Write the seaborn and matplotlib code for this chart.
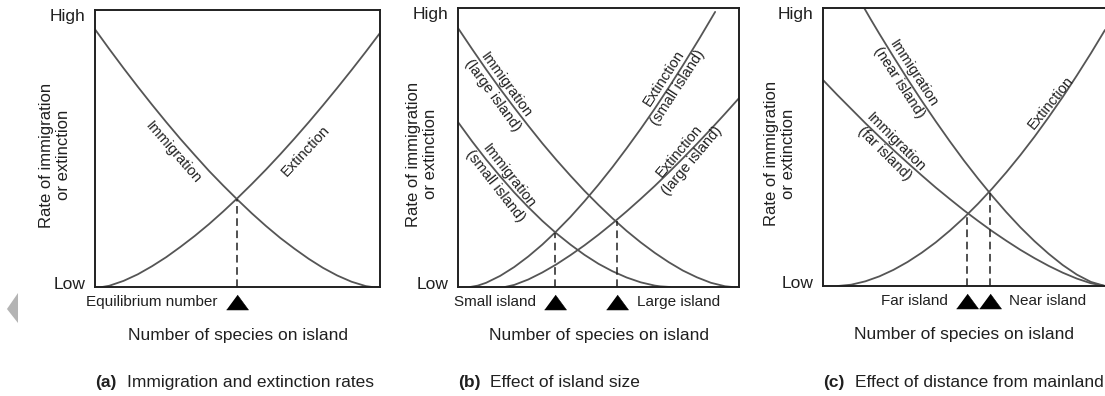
import matplotlib
matplotlib.use('Agg')
import matplotlib.pyplot as plt
import seaborn as sns
from matplotlib.patches import Polygon

# (a) immigration and extinction rates  (x, y as fraction of axis range)
a_imm_x = [0, .05, .1, .15, .2, .25, .3, .35, .4, .45, .5, .55, .6, .65, .7, .75, .8, .85, .9, .95, .972]
a_imm_y = [.93, .859, .79, .723, .658, .595, .534, .476, .419, .366, .315, .266, .220, .177,
           .138, .1015, .069, .0414, .019, .0032, 0]
a_ext_x = [.025, .05, .1, .15, .2, .25, .3, .35, .4, .45, .5, .55, .6, .65, .7, .75, .8, .85, .9, .95, 1.0]
a_ext_y = [0, .0044, .022, .0457, .075, .1078, .145, .1844, .227, .2728, .321, .3715, .424, .479,
           .536, .595, .656, .7187, .783, .849, .917]
a_eq_x = [.498]
a_eq_y = [.318]
a_eq_names = ['Equilibrium number']

# (b) effect of island size
b_imm_large_x = [0, .05, .1, .15, .2, .25, .3, .35, .4, .45, .5, .55, .6, .65, .7, .75, .8, .85, .9, .95, .975]
b_imm_large_y = [.928, .853, .780, .710, .643, .578, .515, .4555, .399, .3447, .294, .2458, .201, .160,
                 .1225, .0888, .059, .0347, .015, .0026, 0]
b_imm_small_x = [0, .05, .1, .15, .2, .25, .3, .35, .4, .45, .5, .55, .6, .65, .7, .72, .754]
b_imm_small_y = [.591, .522, .457, .3965, .339, .2862, .237, .1923, .152, .1152, .083, .0562, .034,
                 .0167, .005, .0022, 0]
b_ext_small_x = [.043, .07, .1, .15, .2, .25, .3, .35, .4, .45, .5, .55, .6, .65, .7, .75, .8, .86, .915]
b_ext_small_y = [0, .0048, .015, .0398, .0715, .1093, .152, .1997, .251, .3073, .367, .4301, .497,
                 .5665, .639, .7152, .794, .8924, .986]
b_ext_large_x = [.167, .2, .25, .3, .35, .4, .45, .5, .55, .6, .65, .7, .75, .8, .85, .9, .95, 1.0]
b_ext_large_y = [0, .0074, .0268, .052, .0811, .114, .1493, .1875, .2282, .271, .3157, .362, .4108,
                 .461, .5127, .566, .6208, .677]
b_eq_x = [.345, .566]
b_eq_y = [.194, .237]
b_eq_names = ['Small island', 'Large island']

# (c) effect of distance from mainland
c_imm_near_x = [.146, .17, .2, .25, .3, .35, .4, .45, .5, .55, .6, .65, .7, .75, .8, .85, .9, .95, 1.0]
c_imm_near_y = [1.0, .958, .907, .8244, .744, .6664, .592, .520, .451, .3859, .324, .2656, .211,
                .1612, .116, .0754, .041, .0147, 0]
c_imm_far_x = [0, .05, .1, .15, .2, .25, .3, .35, .4, .45, .5, .55, .6, .65, .7, .75, .8, .85, .9, .95, 1.0]
c_imm_far_y = [.741, .688, .637, .586, .537, .489, .443, .3979, .354, .3126, .272, .2339, .197, .1627,
               .130, .1001, .0725, .0479, .0267, .0098, 0]
c_ext_x = [.053, .1, .15, .2, .25, .3, .35, .4, .45, .5, .55, .6, .65, .7, .75, .8, .85, .9, .95, 1.0]
c_ext_y = [0, .0047, .0167, .0347, .0581, .0865, .1196, .157, .1994, .2456, .2961, .3505, .4088,
           .471, .537, .607, .6799, .757, .8371, .921]
c_eq_x = [.512, .591]
c_eq_y = [.263, .335]
c_eq_names = ['Far island', 'Near island']

CURVE = '#555555'
INK = '#202020'

sns.set_style('white')
plt.rcParams['font.family'] = ['Liberation Sans', 'DejaVu Sans']

fig = plt.figure(figsize=(11.05, 3.96), dpi=100)


def panel(rect, curves, eq_x, eq_y, eq_names, notes, ylab_x, caption_letter, caption):
    ax = fig.add_axes(rect)
    for xs, ys in curves:
        sns.lineplot(x=xs, y=ys, ax=ax, color=CURVE, lw=1.3, estimator=None, sort=False)
    for xe, ye in zip(eq_x, eq_y):
        sns.lineplot(x=[xe, xe], y=[0, ye], ax=ax, color=INK, lw=1.1,
                     linestyle=(0, (5, 3)), estimator=None, sort=False)

    # equilibrium triangles just under the axis
    tri = [(-1, -0.68), (1, -0.68), (0, 0.68)]
    sns.scatterplot(x=eq_x, y=[-0.054] * len(eq_x), ax=ax, marker=tri, s=250,
                    color='black', edgecolor='black', linewidth=0.4,
                    clip_on=False, transform=ax.get_xaxis_transform(), zorder=5)
    sides = [-1] if len(eq_x) == 1 else [-1, 1]
    for xe, name, side in zip(eq_x, eq_names, sides):
        ax.annotate(name, xy=(xe, -0.054), xycoords=ax.get_xaxis_transform(),
                    xytext=(14 * side, 0), textcoords='offset points',
                    ha='right' if side < 0 else 'left', va='center',
                    fontsize=11, color=INK, annotation_clip=False)

    # labels along the curves
    for txt, x, y, rot in notes:
        ax.text(x, y, txt, transform=ax.transAxes, rotation=rot, rotation_mode='anchor',
                ha='center', va='center', fontsize=10.5, color=INK, linespacing=1.25)

    ax.set_xlim(0, 1)
    ax.set_ylim(0, 1)
    ax.set_xticks([])
    ax.set_yticks([0.015, 0.982])
    ax.set_yticklabels(['Low', 'High'], fontsize=12.5, color=INK)
    ax.tick_params(axis='y', length=0, pad=7)
    for s in ax.spines.values():
        s.set_color(INK)
        s.set_linewidth(1.4)

    ax.set_xlabel('Number of species on island', fontsize=12.5, color=INK)
    ax.xaxis.set_label_coords(0.5, -0.148)
    ax.set_ylabel('Rate of immigration\nor extinction', fontsize=12, color=INK, va='center')
    ax.yaxis.set_label_coords(ylab_x, 0.476)

    fig.text(rect[0], 0.033, caption_letter, fontsize=12.5, fontweight='bold',
             color=INK, va='center')
    fig.text(rect[0] + 0.029, 0.033, caption, fontsize=12.5, color=INK, va='center')
    return ax


panel([0.0860, 0.2753, 0.2579, 0.6995],
      [(a_imm_x, a_imm_y), (a_ext_x, a_ext_y)],
      a_eq_x, a_eq_y, a_eq_names,
      [('Immigration', 0.274, 0.487, -49), ('Extinction', 0.740, 0.491, 47)],
      -0.140, '(a)', 'Immigration and extinction rates')

panel([0.4145, 0.2753, 0.2543, 0.7045],
      [(b_imm_large_x, b_imm_large_y), (b_imm_small_x, b_imm_small_y),
       (b_ext_small_x, b_ext_small_y), (b_ext_large_x, b_ext_large_y)],
      b_eq_x, b_eq_y, b_eq_names,
      [('Immigration\n(large island)', 0.146, 0.706, -54),
       ('Immigration\n(small island)', 0.157, 0.380, -52),
       ('Extinction\n(small island)', 0.758, 0.731, 57),
       ('Extinction\n(large island)', 0.811, 0.470, 50)],
      -0.128, '(b)', 'Effect of island size')

ax_c = panel([0.7448, 0.2778, 0.2552, 0.7020],
             [(c_imm_near_x, c_imm_near_y), (c_imm_far_x, c_imm_far_y), (c_ext_x, c_ext_y)],
             c_eq_x, c_eq_y, c_eq_names,
             [('Immigration\n(near island)', 0.295, 0.748, -57),
              ('Immigration\n(far island)', 0.238, 0.496, -45),
              ('Extinction', 0.808, 0.658, 51)],
             -0.152, '(c)', 'Effect of distance from mainland')
ax_c.spines['right'].set_visible(False)

# grey arrow at the left edge of the screenshot
fig.patches.append(Polygon([(0.0063, 0.2197), (0.0163, 0.2601), (0.0163, 0.1843)],
                           closed=True, transform=fig.transFigure,
                           facecolor='#b4b4b4', edgecolor='none'))

fig.savefig('out.png', dpi=100)
